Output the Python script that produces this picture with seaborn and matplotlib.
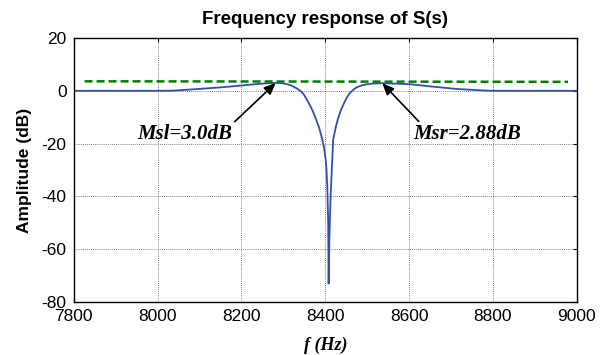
import numpy as np
import pandas as pd
import matplotlib
matplotlib.use("Agg")
import matplotlib.pyplot as plt
import seaborn as sns

# curve
freq = [7800, 7900, 8000, 8036, 8060, 8107, 8150, 8186, 8233, 8260, 8282, 8290,
        8300, 8310, 8317, 8325, 8333, 8341, 8349, 8357, 8365, 8373, 8385, 8393,
        8397, 8401, 8403, 8405, 8407, 8408, 8410, 8413, 8417, 8419, 8425, 8431,
        8437, 8445, 8452, 8458, 8464, 8470, 8476, 8488, 8500, 8518, 8536, 8560,
        8602, 8649, 8713, 8776, 8800, 8900, 9000]
amp_db = [0, 0, 0, 0.05, 0.3, 0.8, 1.3, 1.8, 2.5, 2.85, 3.0, 2.95,
          2.8, 2.45, 2.1, 1.5, 0.8, 0.0, -1.4, -3.6, -5.9, -8.7, -13.8, -18.4,
          -21.4, -26, -30, -36.8, -50, -73, -55, -39, -25, -18.4, -13.8, -10.2,
          -7.4, -4.6, -2.4, -1.0, 0.0, 0.8, 1.4, 2.1, 2.5, 2.8, 2.88, 2.75,
          2.5, 1.7, 0.7, 0.15, 0, 0, 0]

# dashed reference level
ref_freq = [7826, 8979]
ref_db = [3.6, 3.4]

# peaks
msl_f, msl_db = 8282, 3.0
msr_f, msr_db = 8536, 2.88

sns.set_style("white")
plt.rcParams['font.family'] = ['Liberation Sans', 'DejaVu Sans']
plt.rcParams['axes.unicode_minus'] = False
for k in ['text.color', 'axes.labelcolor', 'xtick.color', 'ytick.color']:
    plt.rcParams[k] = 'black'

curve = pd.DataFrame({'f': freq, 'dB': amp_db})
ref = pd.DataFrame({'f': ref_freq, 'dB': ref_db})

fig = plt.figure(figsize=(6.04, 3.55), dpi=100)
ax = fig.add_axes([0.122, 0.149, 0.833, 0.744])

sns.lineplot(data=curve, x='f', y='dB', ax=ax, color='#3050b0', linewidth=1.3,
             estimator=None, sort=False)
sns.lineplot(data=ref, x='f', y='dB', ax=ax, color='#007f00', linewidth=1.8,
             linestyle=(0, (3.2, 1.6)), estimator=None)

ax.set_xlim(7800, 9000)
ax.set_ylim(-80, 20)
ax.set_xticks(np.arange(7800, 9001, 200))
ax.set_yticks(np.arange(-80, 21, 20))
ax.grid(True, color='#555555', linestyle=(0, (1, 1.5)), linewidth=0.6)
ax.tick_params(direction='in', length=3, top=True, right=True, labelsize=12.5,
               width=0.8, pad=5, colors='black')
for s in ax.spines.values():
    s.set_color('black')
    s.set_linewidth(1.0)

ax.set_title('Frequency response of S(s)', fontsize=13.5, fontweight='bold', pad=10,
             color='black')
ax.set_ylabel('Amplitude (dB)', fontsize=12.5, fontweight='bold', labelpad=7,
              color='black')
ax.set_xlabel('f (Hz)', fontsize=13, fontweight='bold', style='italic',
              family='Liberation Serif', labelpad=9, color='black')

txt = dict(fontsize=15, fontweight='bold', style='italic', family='Liberation Serif',
           ha='center', va='center', color='black')
ax.text(8064, -16.5, 'Msl=3.0dB', **txt)
ax.text(8739, -16.5, 'Msr=2.88dB', **txt)

arrow = dict(arrowstyle='-|>,head_length=0.7,head_width=0.3', color='black',
             lw=1.2, shrinkA=0, shrinkB=0)
ax.annotate('', xy=(msl_f, msl_db), xytext=(8184, -11.7), arrowprops=arrow)
ax.annotate('', xy=(msr_f, msr_db), xytext=(8623, -11.6), arrowprops=arrow)

fig.savefig('out.png', dpi=100)
